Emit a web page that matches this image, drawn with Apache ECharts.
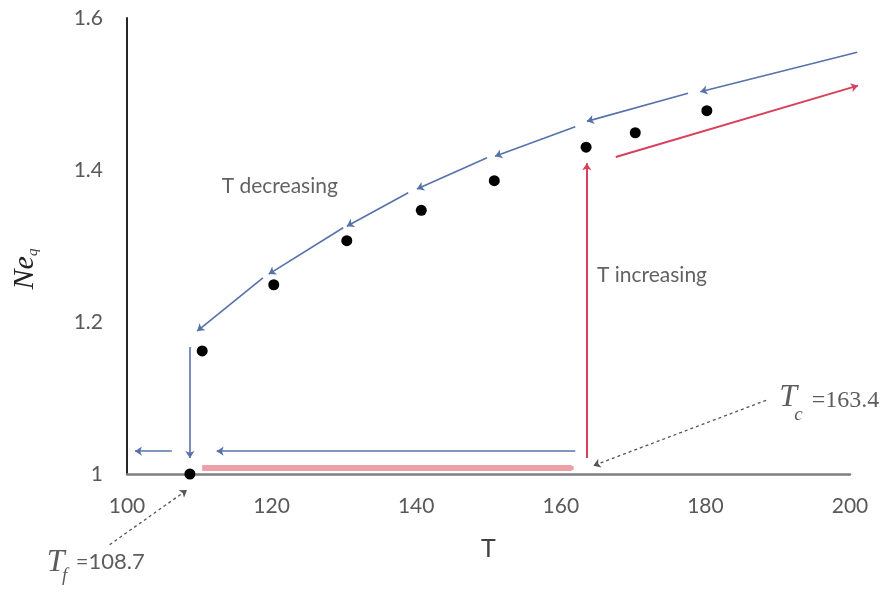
<!DOCTYPE html>
<html>
<head>
<meta charset="utf-8">
<script src="https://cdn.jsdelivr.net/npm/echarts@6/dist/echarts.min.js"></script>
<style>html,body{margin:0;padding:0;background:#fff}#c{width:886px;height:592px}</style>
</head>
<body>
<div id="c"></div>
<script>
// ---- data ----
const xTicks = [100, 120, 140, 160, 180, 200];
const yTicks = [1, 1.2, 1.4, 1.6];
const dotT  = [108.7, 110.4, 120.3, 130.4, 140.7, 150.8, 163.5, 170.3, 180.2];
const dotNe = [1.000, 1.162, 1.249, 1.307, 1.347, 1.386, 1.430, 1.449, 1.478];
// T decreasing (blue) arrow segments: [x1, y1, x2, y2]
const blueSegs = [
  [201.0, 1.555, 179.3, 1.503],
  [177.6, 1.501, 163.6, 1.464],
  [162.0, 1.457, 150.9, 1.418],
  [149.8, 1.416, 140.1, 1.375],
  [138.9, 1.370, 130.4, 1.326],
  [129.9, 1.324, 119.6, 1.263],
  [118.8, 1.258, 109.7, 1.188],
  [108.7, 1.167, 108.7, 1.021],
  [162.0, 1.030, 112.4, 1.030],
  [106.2, 1.030, 101.1, 1.030]
];
// T increasing (red) arrow segments
const redSegs = [
  [163.6, 1.021, 163.6, 1.409],
  [167.6, 1.417, 201.1, 1.511]
];
const redBar = [110.4, 1.008, 161.5, 1.008];
// annotation pointer arrows (dotted)
const pointerSegs = [
  [188.4, 1.097, 164.5, 1.011],
  [97.6, 0.907, 108.3, 0.979]
];
// annotation texts: [x, y, text, style]
const notes = [
  [113.1, 1.378, 'T decreasing', 'txt'],
  [165.0, 1.261, 'T increasing', 'txt'],
  [190.2, 1.101, 'T', 'big'],
  [192.3, 1.078, 'c', 'sub'],
  [194.7, 1.097, '=163.4', 'num'],
  [88.9, 0.884, 'T', 'big'],
  [91.0, 0.866, 'f', 'sub'],
  [92.9, 0.884, '=108.7', 'sans']
];

const noteStyles = {
  txt: {fontFamily: 'Lato', fontSize: 21, color: '#3a3a3a'},
  big: {fontFamily: 'Liberation Serif', fontStyle: 'italic', fontSize: 32, color: '#333'},
  sub: {fontFamily: 'Liberation Serif', fontStyle: 'italic', fontSize: 19, color: '#333'},
  num: {fontFamily: 'Liberation Serif', fontSize: 24, color: '#333'},
  sans: {fontFamily: 'Lato', fontSize: 22, color: '#333'}
};

function segData(arr) {
  return arr.map(s => ({coords: [[s[0], s[1]], [s[2], s[3]]]}));
}

const chart = echarts.init(document.getElementById('c'), null, {renderer: 'canvas'});
chart.setOption({
  animation: false,
  backgroundColor: '#fff',
  grid: {left: 127, right: 36, top: 18, bottom: 118, outerBoundsMode: 'none', containLabel: false},
  xAxis: {
    type: 'value', min: xTicks[0], max: xTicks[xTicks.length - 1], interval: 20,
    axisLine: {show: true, lineStyle: {color: '#7f7f7f', width: 2.5}},
    axisTick: {show: false}, splitLine: {show: false},
    axisLabel: {fontFamily: 'Lato', fontSize: 21, color: '#595959', margin: 22},
    name: 'T', nameLocation: 'middle', nameGap: 62,
    nameTextStyle: {fontFamily: 'Lato', fontSize: 25, color: '#404040'}
  },
  yAxis: {
    type: 'value', min: yTicks[0], max: yTicks[yTicks.length - 1], interval: 0.2,
    axisLine: {show: true, lineStyle: {color: '#262626', width: 2}},
    axisTick: {show: false}, splitLine: {show: false},
    axisLabel: {fontFamily: 'Lato', fontSize: 21, color: '#595959', margin: 24},
    name: '{n|Ne}{q|q}', nameLocation: 'middle', nameGap: 86, nameRotate: 90,
    nameTextStyle: {
      padding: [0, 46, 0, 0],
      rich: {
        n: {fontFamily: 'Liberation Serif', fontStyle: 'italic', fontSize: 30, color: '#222', verticalAlign: 'middle', lineHeight: 32},
        q: {fontFamily: 'Liberation Serif', fontStyle: 'italic', fontSize: 15, color: '#444', verticalAlign: 'bottom', lineHeight: 32}
      }
    }
  },
  series: [
    {
      type: 'lines', coordinateSystem: 'cartesian2d', clip: false, z: 3,
      data: [{coords: [[redBar[0], redBar[1]], [redBar[2], redBar[3]]]}],
      symbol: ['none', 'rect'], symbolSize: 4,
      lineStyle: {color: '#eda0a8', width: 6, opacity: 1}
    },
    {
      type: 'lines', coordinateSystem: 'cartesian2d', clip: false, z: 4,
      data: segData(blueSegs), symbol: ['none', 'arrow'], symbolSize: 7,
      lineStyle: {color: '#5672aa', width: 1.6, opacity: 1}
    },
    {
      type: 'lines', coordinateSystem: 'cartesian2d', clip: false, z: 4,
      data: segData(redSegs), symbol: ['none', 'arrow'], symbolSize: 7,
      lineStyle: {color: '#d8405c', width: 2, opacity: 1}
    },
    {
      type: 'lines', coordinateSystem: 'cartesian2d', clip: false, z: 4,
      data: segData(pointerSegs), symbol: ['none', 'arrow'], symbolSize: 7,
      lineStyle: {color: '#555', width: 1.3, type: [3, 3], opacity: 1}
    },
    {
      type: 'scatter', z: 6, clip: false,
      data: dotT.map((t, i) => [t, dotNe[i]]),
      symbol: 'circle', symbolSize: 11,
      itemStyle: {color: '#000', opacity: 1}
    },
    {
      type: 'scatter', z: 7, clip: false, silent: true,
      symbolSize: 0,
      data: notes.map(n => ({
        value: [n[0], n[1]],
        label: Object.assign({show: true, position: [0, 0], align: 'left', verticalAlign: 'middle', formatter: n[2]}, noteStyles[n[3]])
      }))
    }
  ]
});
</script>
</body>
</html>
